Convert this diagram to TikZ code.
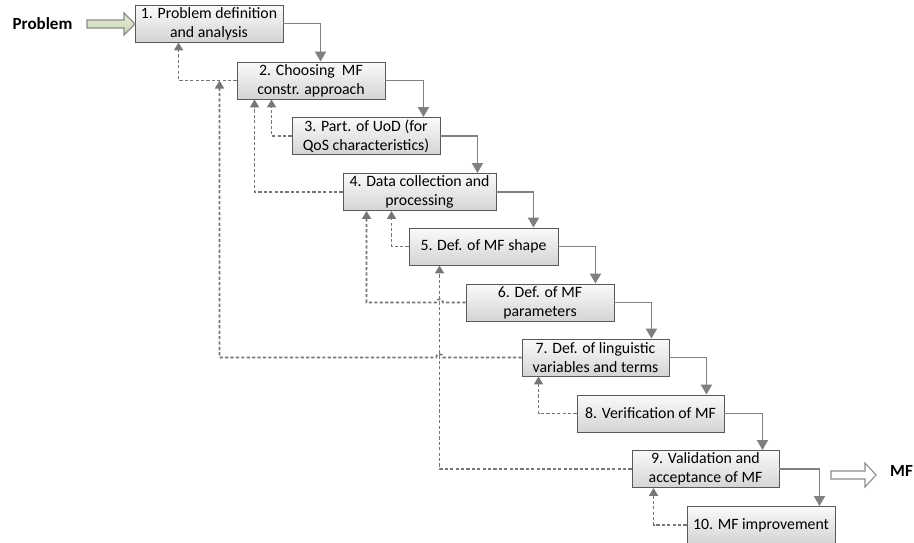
\documentclass[tikz,border=0pt]{standalone}
\usepackage{fontspec}
\setmainfont{Carlito}
\usetikzlibrary{arrows.meta}
\definecolor{boxline}{HTML}{595959}
\definecolor{linkgray}{HTML}{808080}
\definecolor{dashgray}{HTML}{767676}
\definecolor{boxtop}{HTML}{FAFAFA}
\definecolor{boxbot}{HTML}{D4D4D4}
\definecolor{inputfill}{HTML}{D7E4BD}
\definecolor{blockline}{HTML}{8C8C8C}

\begin{document}
\begin{tikzpicture}[x=1pt,y=-1pt,
  stepbox/.style={draw=boxline, line width=0.9pt, top color=boxtop, bottom color=boxbot,
    minimum width=148pt, minimum height=37pt, inner sep=2pt, align=center,
    font=\fontsize{15.8}{19}\selectfont},
  flow/.style={draw=linkgray, line width=1.8pt, -{Triangle[length=10pt,width=11pt]}},
  back/.style={draw=dashgray, line width=1.7pt, dash pattern=on 3.2pt off 2.2pt,
    -{Triangle[length=8pt,width=9pt]}},
  label/.style={font=\fontsize{17}{19}\selectfont\bfseries, inner sep=0pt},
  blockarrow/.style={draw=blockline, line width=1.1pt, line join=miter}]

\useasboundingbox (0,0) rectangle (914,542);

% process steps
\node[stepbox] (b1) at (209,23.5) {1. Problem definition\\and analysis};
\node[stepbox] (b2) at (311,80.5) {2. Choosing\ \ MF\\constr. approach};
\node[stepbox] (b3) at (366,136) {3. Part. of UoD (for\\QoS characteristics)};
\node[stepbox, minimum width=153pt] (b4) at (419.5,192) {4. Data collection and\\processing};
\node[stepbox, minimum width=149pt] (b5) at (483.5,246.5) {5. Def. of MF shape};
\node[stepbox] (b6) at (540,302.5) {6. Def. of MF\\parameters};
\node[stepbox, minimum width=147pt] (b7) at (595.5,357.5) {7. Def. of linguistic\\variables and terms};
\node[stepbox, minimum width=147pt] (b8) at (650.5,413.5) {8. Verification of MF};
\node[stepbox, minimum width=147pt] (b9) at (705.5,469) {9. Validation and\\acceptance of MF};
\node[stepbox] (b10) at (761,525) {10. MF improvement};

% input and output labels
\node[label, anchor=base] (pin) at (42.5,29.5) {Problem};
\node[label, anchor=base west] (pout) at (890,476.5) {MF};

% block arrows for input and output
\draw[blockarrow, top color=inputfill!60!white, bottom color=inputfill!85!gray]
  (87,20) -- (124,20) -- (124,13) -- (135,24) -- (124,35) -- (124,28) -- (87,28) -- cycle;
\draw[blockarrow, fill=white]
  (831,471) -- (865,471) -- (865,463) -- (876,475) -- (865,487) -- (865,479) -- (831,479) -- cycle;

% forward flow
\draw[flow] (b1.east) -| ([xshift=84pt]b2.north west);
\draw[flow] (b2.east) -| ([xshift=-17pt]b3.north east);
\draw[flow] (b3.east) -| ([xshift=-19pt]b4.north east);
\draw[flow] (b4.east) -| ([xshift=-25pt]b5.north east);
\draw[flow] (b5.east) -| ([xshift=-19pt]b6.north east);
\draw[flow] (b6.east) -| ([xshift=-18pt]b7.north east);
\draw[flow] (b7.east) -| ([xshift=-18pt]b8.north east);
\draw[flow] (b8.east) -| ([xshift=-17pt]b9.north east);
\draw[flow] (b9.east) -| ([xshift=-16pt]b10.north east);

% feedback loops; the long loop from step 9 is crossed with small hops
\coordinate (hop) at ([xshift=31pt]b5.south west);
\draw[back] (b2.west) -| ([xshift=44pt]b1.south west);
\draw[back] (b3.west) -| ([xshift=35pt]b2.south west);
\draw[back] (b4.west) -| ([xshift=18pt]b2.south west);
\draw[back] (b7.west) -- ([xshift=3.5pt]b7.west -| hop)
  arc[start angle=0, end angle=180, radius=3.5pt] -| ([xshift=-17pt]b2.west);
\draw[back] (b5.west) -| ([xshift=49pt]b4.south west);
\draw[back] (b6.west) -- ([xshift=3.5pt]b6.west -| hop)
  arc[start angle=0, end angle=180, radius=3.5pt] -| ([xshift=24pt]b4.south west);
\draw[back] (b9.west) -| (hop);
\draw[back] (b8.west) -| ([xshift=17pt]b7.south west);
\draw[back] (b10.west) -| ([xshift=22pt]b9.south west);
\end{tikzpicture}
\end{document}
